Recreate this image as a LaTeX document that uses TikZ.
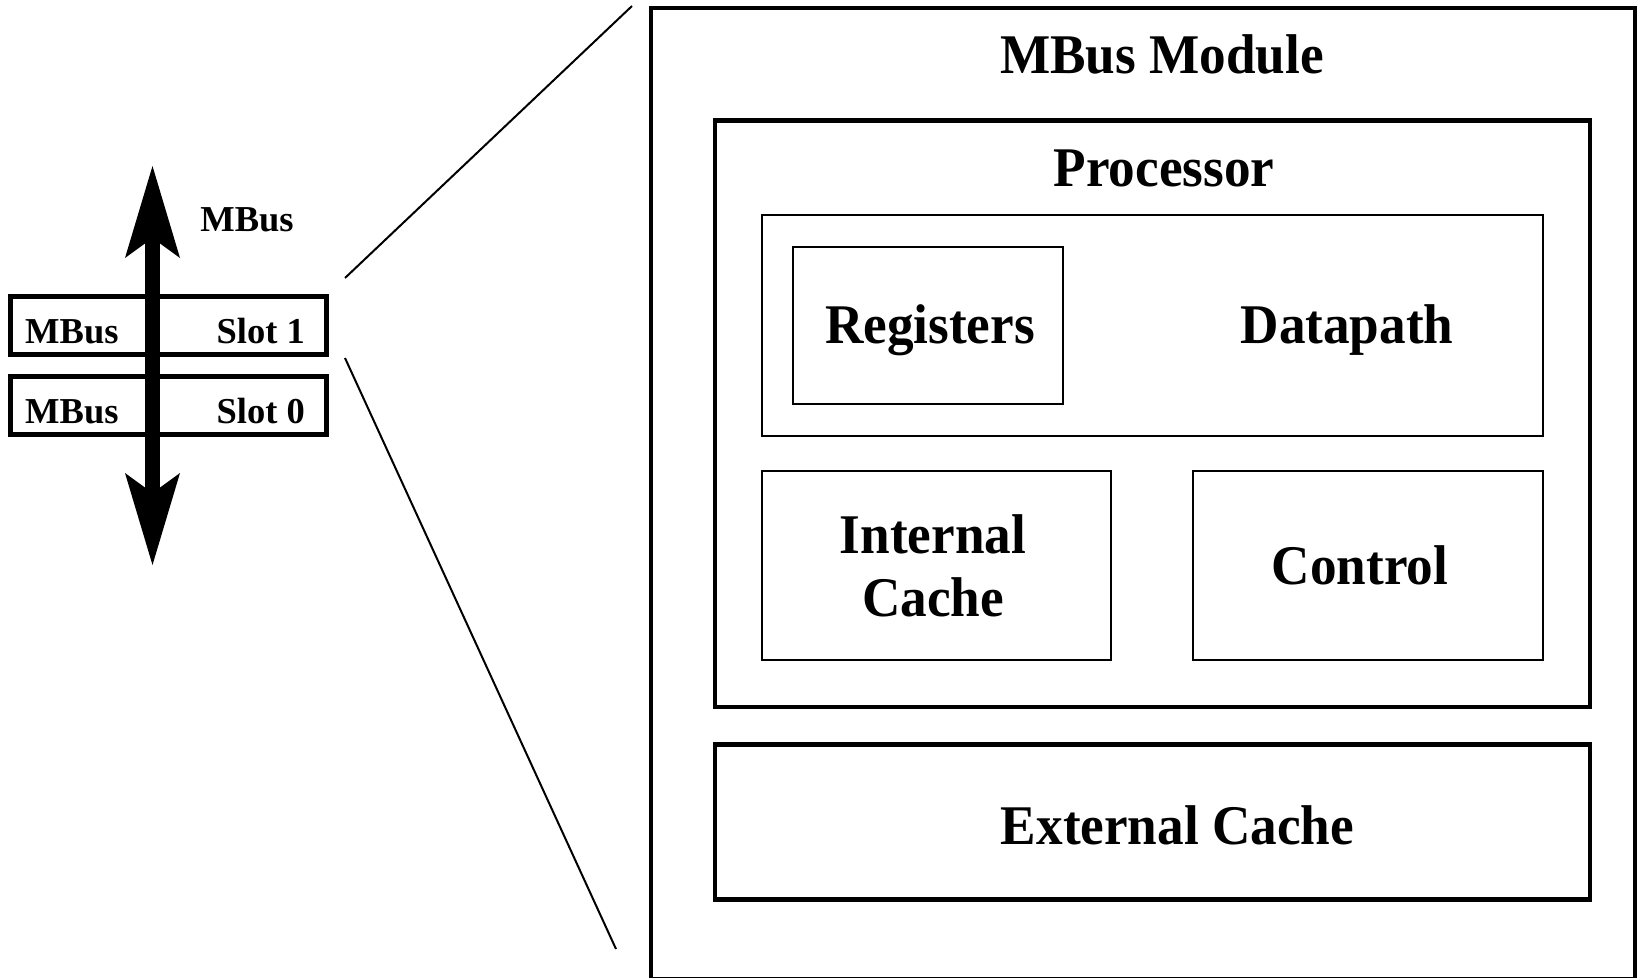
\documentclass[tikz,border=0pt]{standalone}
\usepackage{fontspec}
\setmainfont{Liberation Serif}
\newfontfamily\lblfont{Liberation Serif}[FakeStretch=0.95]
\usetikzlibrary{arrows.meta}
\begin{document}
\begin{tikzpicture}[x=1pt,y=-1pt,
  heavybox/.style={draw, line width=4.5pt, inner sep=0pt, outer sep=0pt},
  thinbox/.style={draw, line width=2pt, inner sep=0pt, outer sep=0pt},
  slotbox/.style={draw, line width=5pt, inner sep=0pt, outer sep=0pt},
  biglbl/.style={inner sep=0pt, font=\lblfont\bfseries\fontsize{56}{63}\selectfont},
  smalllbl/.style={inner sep=0pt, font=\bfseries\fontsize{36.5}{40}\selectfont},
  zoomline/.style={line width=2pt},
  bustip/.tip={Stealth[length=92pt, width=55pt, inset=20pt, line width=0pt]},
  busline/.style={line width=15pt, bustip-bustip}
]
\useasboundingbox (0,0) rectangle (1637,977);

% module boxes
\node[heavybox, line width=4pt, minimum width=984pt, minimum height=971pt] (module) at (1143,493.5) {};
\node[heavybox, minimum width=875pt, minimum height=586.5pt] (proc) at (1152.5,413.75) {};
\node[thinbox, minimum width=781pt, minimum height=221pt] (datapath) at (1152.5,325.5) {};
\node[thinbox, minimum width=270pt, minimum height=157pt] (regs) at (928,325.5) {};
\node[thinbox, minimum width=349pt, minimum height=189pt] (icache) at (936.5,565.5) {};
\node[thinbox, minimum width=350pt, minimum height=189pt] (control) at (1368,565.5) {};
\node[heavybox, minimum width=875pt, minimum height=155pt] (ecache) at (1152.5,822) {};

% labels (a two-line node sits on the baseline of its last line)
\node[biglbl, anchor=base] (modulelbl) at (1162,73) {MBus Module};
\node[biglbl, anchor=base] (proclbl) at (1164,186) {Processor};
\node[biglbl, anchor=base] (regslbl) at (930,343) {Registers};
\node[biglbl, anchor=base] (dplbl) at (1347,343) {Datapath};
\node[biglbl, anchor=base, align=center] (icachelbl) at (933,616) {Internal\\Cache};
\node[biglbl, anchor=base] (controllbl) at (1360,584) {Control};
\node[biglbl, anchor=base] (ecachelbl) at (1177.5,844) {External Cache};

% bus slots
\node[slotbox, minimum width=315.2pt, minimum height=57.7pt] (slot1) at (168.4,325.65) {};
\node[slotbox, minimum width=315.2pt, minimum height=58pt] (slot0) at (168.4,405.5) {};
\node[smalllbl, anchor=base west] (s1bus) at (25,343) {MBus};
\node[smalllbl, anchor=base east] (s1num) at (305,343) {Slot 1};
\node[smalllbl, anchor=base west] (s0bus) at (25,423) {MBus};
\node[smalllbl, anchor=base east] (s0num) at (305,423) {Slot 0};

% the bus itself
\coordinate (bustop) at (152.5,166);
\coordinate (busbot) at (152.5,565);
\draw[busline] (busbot) -- (bustop);
\node[smalllbl, anchor=base] (buslbl) at (247,231.5) {MBus};

% zoom-in lines from slot 1 to the module
\coordinate (zoomA) at (345,278);
\coordinate (zoomB) at (632,6);
\coordinate (zoomC) at (345,358);
\coordinate (zoomD) at (616,949);
\draw[zoomline] (zoomA) -- (zoomB);
\draw[zoomline] (zoomC) -- (zoomD);
\end{tikzpicture}
\end{document}
